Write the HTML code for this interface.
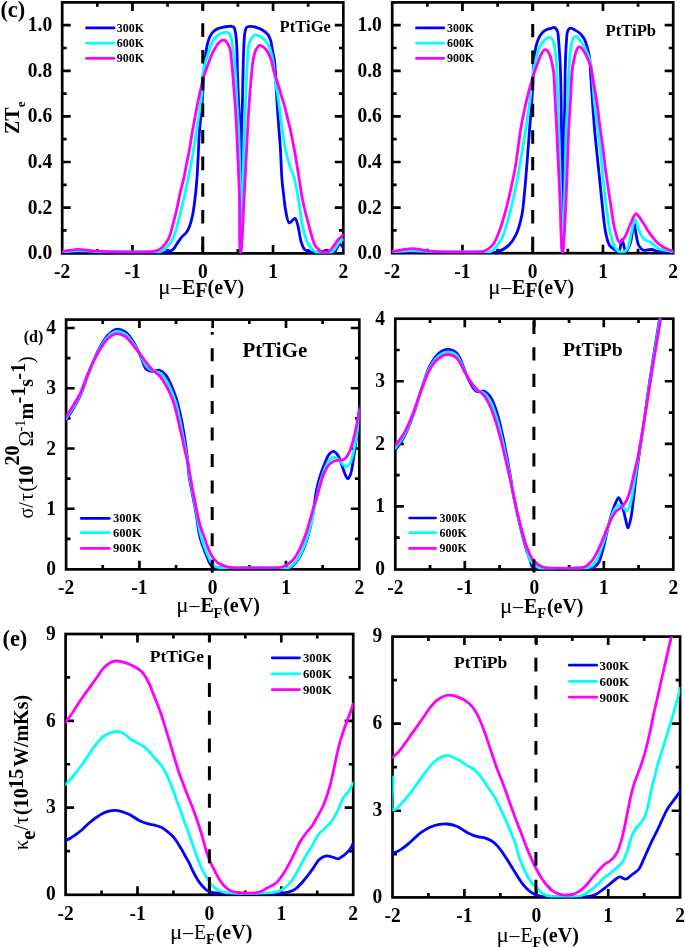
<!DOCTYPE html>
<html><head><meta charset="utf-8"><title>Figure</title>
<style>
html,body{margin:0;padding:0;background:#fff;}
body{width:685px;height:948px;overflow:hidden;font-family:"Liberation Serif", serif;}
svg{display:block;will-change:transform;}
</style></head><body>
<svg width="685" height="948" viewBox="0 0 685 948" font-family='"Liberation Serif", serif' font-weight="bold" fill="#000">
<defs>
<clipPath id="c1"><rect x="62.0" y="2.2" width="281.5" height="251.2"/></clipPath>
<clipPath id="c2"><rect x="392.0" y="2.2" width="281.4" height="251.0"/></clipPath>
<clipPath id="c3"><rect x="65.9" y="319.4" width="293.6" height="249.9"/></clipPath>
<clipPath id="c4"><rect x="395.1" y="318.5" width="278.4" height="251.0"/></clipPath>
<clipPath id="c5"><rect x="65.4" y="633.8" width="288.0" height="261.0"/></clipPath>
<clipPath id="c6"><rect x="392.3" y="636.4" width="288.0" height="261.0"/></clipPath>
</defs>
<path d="M132.48,253.40V244.90M132.48,2.40V10.90M202.75,253.40V244.90M202.75,2.40V10.90M273.03,253.40V244.90M273.03,2.40V10.90M97.34,253.40V249.00M97.34,2.40V6.80M167.61,253.40V249.00M167.61,2.40V6.80M237.89,253.40V249.00M237.89,2.40V6.80M308.16,253.40V249.00M308.16,2.40V6.80M62.20,207.60H70.70M343.30,207.60H334.80M62.20,162.00H70.70M343.30,162.00H334.80M62.20,116.40H70.70M343.30,116.40H334.80M62.20,70.80H70.70M343.30,70.80H334.80M62.20,25.20H70.70M343.30,25.20H334.80M62.20,230.40H66.60M343.30,230.40H338.90M62.20,184.80H66.60M343.30,184.80H338.90M62.20,139.20H66.60M343.30,139.20H338.90M62.20,93.60H66.60M343.30,93.60H338.90M62.20,48.00H66.60M343.30,48.00H338.90" stroke="#000" stroke-width="2.70" fill="none"/>
<rect x="62.20" y="2.40" width="281.10" height="251.00" stroke="#000" stroke-width="2.70" fill="none"/>
<text transform="translate(52.2,259.1) scale(1,1.065)" text-anchor="end" font-size="19.5">0.0</text>
<text transform="translate(52.2,213.5) scale(1,1.065)" text-anchor="end" font-size="19.5">0.2</text>
<text transform="translate(52.2,167.9) scale(1,1.065)" text-anchor="end" font-size="19.5">0.4</text>
<text transform="translate(52.2,122.3) scale(1,1.065)" text-anchor="end" font-size="19.5">0.6</text>
<text transform="translate(52.2,76.7) scale(1,1.065)" text-anchor="end" font-size="19.5">0.8</text>
<text transform="translate(52.2,31.1) scale(1,1.065)" text-anchor="end" font-size="19.5">1.0</text>
<text transform="translate(62.2,278.3) scale(1,1.065)" text-anchor="middle" font-size="19.5">-2</text>
<text transform="translate(132.5,278.3) scale(1,1.065)" text-anchor="middle" font-size="19.5">-1</text>
<text transform="translate(202.8,278.3) scale(1,1.065)" text-anchor="middle" font-size="19.5">0</text>
<text transform="translate(273.0,278.3) scale(1,1.065)" text-anchor="middle" font-size="19.5">1</text>
<text transform="translate(343.3,278.3) scale(1,1.065)" text-anchor="middle" font-size="19.5">2</text>
<path d="M462.45,253.20V244.70M462.45,2.40V10.90M532.70,253.20V244.70M532.70,2.40V10.90M602.95,253.20V244.70M602.95,2.40V10.90M427.32,253.20V248.80M427.32,2.40V6.80M497.58,253.20V248.80M497.58,2.40V6.80M567.83,253.20V248.80M567.83,2.40V6.80M638.08,253.20V248.80M638.08,2.40V6.80M392.20,207.60H400.70M673.20,207.60H664.70M392.20,162.00H400.70M673.20,162.00H664.70M392.20,116.40H400.70M673.20,116.40H664.70M392.20,70.80H400.70M673.20,70.80H664.70M392.20,25.20H400.70M673.20,25.20H664.70M392.20,230.40H396.60M673.20,230.40H668.80M392.20,184.80H396.60M673.20,184.80H668.80M392.20,139.20H396.60M673.20,139.20H668.80M392.20,93.60H396.60M673.20,93.60H668.80M392.20,48.00H396.60M673.20,48.00H668.80" stroke="#000" stroke-width="2.70" fill="none"/>
<rect x="392.20" y="2.40" width="281.00" height="250.80" stroke="#000" stroke-width="2.70" fill="none"/>
<text transform="translate(381.8,259.1) scale(1,1.065)" text-anchor="end" font-size="19.5">0.0</text>
<text transform="translate(381.8,213.5) scale(1,1.065)" text-anchor="end" font-size="19.5">0.2</text>
<text transform="translate(381.8,167.9) scale(1,1.065)" text-anchor="end" font-size="19.5">0.4</text>
<text transform="translate(381.8,122.3) scale(1,1.065)" text-anchor="end" font-size="19.5">0.6</text>
<text transform="translate(381.8,76.7) scale(1,1.065)" text-anchor="end" font-size="19.5">0.8</text>
<text transform="translate(381.8,31.1) scale(1,1.065)" text-anchor="end" font-size="19.5">1.0</text>
<text transform="translate(392.2,278.3) scale(1,1.065)" text-anchor="middle" font-size="19.5">-2</text>
<text transform="translate(462.4,278.3) scale(1,1.065)" text-anchor="middle" font-size="19.5">-1</text>
<text transform="translate(532.7,278.3) scale(1,1.065)" text-anchor="middle" font-size="19.5">0</text>
<text transform="translate(603.0,278.3) scale(1,1.065)" text-anchor="middle" font-size="19.5">1</text>
<text transform="translate(673.2,278.3) scale(1,1.065)" text-anchor="middle" font-size="19.5">2</text>
<path d="M139.40,569.35V560.85M139.40,319.60V328.10M212.70,569.35V560.85M212.70,319.60V328.10M286.00,569.35V560.85M286.00,319.60V328.10M102.75,569.35V564.95M102.75,319.60V324.00M176.05,569.35V564.95M176.05,319.60V324.00M249.35,569.35V564.95M249.35,319.60V324.00M322.65,569.35V564.95M322.65,319.60V324.00M66.10,508.75H74.60M359.30,508.75H350.80M66.10,448.50H74.60M359.30,448.50H350.80M66.10,388.25H74.60M359.30,388.25H350.80M66.10,328.00H74.60M359.30,328.00H350.80M66.10,538.88H70.50M359.30,538.88H354.90M66.10,478.62H70.50M359.30,478.62H354.90M66.10,418.38H70.50M359.30,418.38H354.90M66.10,358.12H70.50M359.30,358.12H354.90" stroke="#000" stroke-width="2.70" fill="none"/>
<rect x="66.10" y="319.60" width="293.20" height="249.75" stroke="#000" stroke-width="2.70" fill="none"/>
<text transform="translate(56.0,575.0) scale(1,1.065)" text-anchor="end" font-size="19.5">0</text>
<text transform="translate(56.0,514.8) scale(1,1.065)" text-anchor="end" font-size="19.5">1</text>
<text transform="translate(56.0,454.5) scale(1,1.065)" text-anchor="end" font-size="19.5">2</text>
<text transform="translate(56.0,394.2) scale(1,1.065)" text-anchor="end" font-size="19.5">3</text>
<text transform="translate(56.0,334.0) scale(1,1.065)" text-anchor="end" font-size="19.5">4</text>
<text transform="translate(66.1,593.8) scale(1,1.065)" text-anchor="middle" font-size="19.5">-2</text>
<text transform="translate(139.4,593.8) scale(1,1.065)" text-anchor="middle" font-size="19.5">-1</text>
<text transform="translate(212.7,593.8) scale(1,1.065)" text-anchor="middle" font-size="19.5">0</text>
<text transform="translate(286.0,593.8) scale(1,1.065)" text-anchor="middle" font-size="19.5">1</text>
<text transform="translate(359.3,593.8) scale(1,1.065)" text-anchor="middle" font-size="19.5">2</text>
<path d="M464.80,569.50V561.00M464.80,318.70V327.20M534.30,569.50V561.00M534.30,318.70V327.20M603.80,569.50V561.00M603.80,318.70V327.20M430.05,569.50V565.10M430.05,318.70V323.10M499.55,569.50V565.10M499.55,318.70V323.10M569.05,569.50V565.10M569.05,318.70V323.10M638.55,569.50V565.10M638.55,318.70V323.10M395.30,506.43H403.80M673.30,506.43H664.80M395.30,443.85H403.80M673.30,443.85H664.80M395.30,381.27H403.80M673.30,381.27H664.80M395.30,537.71H399.70M673.30,537.71H668.90M395.30,475.14H399.70M673.30,475.14H668.90M395.30,412.56H399.70M673.30,412.56H668.90M395.30,349.99H399.70M673.30,349.99H668.90" stroke="#000" stroke-width="2.70" fill="none"/>
<rect x="395.30" y="318.70" width="278.00" height="250.80" stroke="#000" stroke-width="2.70" fill="none"/>
<text transform="translate(385.0,575.0) scale(1,1.065)" text-anchor="end" font-size="19.5">0</text>
<text transform="translate(385.0,512.4) scale(1,1.065)" text-anchor="end" font-size="19.5">1</text>
<text transform="translate(385.0,449.9) scale(1,1.065)" text-anchor="end" font-size="19.5">2</text>
<text transform="translate(385.0,387.3) scale(1,1.065)" text-anchor="end" font-size="19.5">3</text>
<text transform="translate(385.0,324.7) scale(1,1.065)" text-anchor="end" font-size="19.5">4</text>
<text transform="translate(395.3,593.8) scale(1,1.065)" text-anchor="middle" font-size="19.5">-2</text>
<text transform="translate(464.8,593.8) scale(1,1.065)" text-anchor="middle" font-size="19.5">-1</text>
<text transform="translate(534.3,593.8) scale(1,1.065)" text-anchor="middle" font-size="19.5">0</text>
<text transform="translate(603.8,593.8) scale(1,1.065)" text-anchor="middle" font-size="19.5">1</text>
<text transform="translate(673.3,593.8) scale(1,1.065)" text-anchor="middle" font-size="19.5">2</text>
<path d="M137.50,894.80V886.30M137.50,634.00V642.50M209.40,894.80V886.30M209.40,634.00V642.50M281.30,894.80V886.30M281.30,634.00V642.50M101.55,894.80V890.40M101.55,634.00V638.40M173.45,894.80V890.40M173.45,634.00V638.40M245.35,894.80V890.40M245.35,634.00V638.40M317.25,894.80V890.40M317.25,634.00V638.40M65.60,807.68H74.10M353.20,807.68H344.70M65.60,720.86H74.10M353.20,720.86H344.70M65.60,851.09H70.00M353.20,851.09H348.80M65.60,764.27H70.00M353.20,764.27H348.80M65.60,677.45H70.00M353.20,677.45H348.80" stroke="#000" stroke-width="2.70" fill="none"/>
<rect x="65.60" y="634.00" width="287.60" height="260.80" stroke="#000" stroke-width="2.70" fill="none"/>
<text transform="translate(55.7,900.1) scale(1,1.065)" text-anchor="end" font-size="19.5">0</text>
<text transform="translate(55.7,813.3) scale(1,1.065)" text-anchor="end" font-size="19.5">3</text>
<text transform="translate(55.7,726.5) scale(1,1.065)" text-anchor="end" font-size="19.5">6</text>
<text transform="translate(55.7,639.6) scale(1,1.065)" text-anchor="end" font-size="19.5">9</text>
<text transform="translate(65.6,920.0) scale(1,1.065)" text-anchor="middle" font-size="19.5">-2</text>
<text transform="translate(137.5,920.0) scale(1,1.065)" text-anchor="middle" font-size="19.5">-1</text>
<text transform="translate(209.4,920.0) scale(1,1.065)" text-anchor="middle" font-size="19.5">0</text>
<text transform="translate(281.3,920.0) scale(1,1.065)" text-anchor="middle" font-size="19.5">1</text>
<text transform="translate(353.2,920.0) scale(1,1.065)" text-anchor="middle" font-size="19.5">2</text>
<path d="M464.40,897.40V888.90M464.40,636.60V645.10M536.30,897.40V888.90M536.30,636.60V645.10M608.20,897.40V888.90M608.20,636.60V645.10M428.45,897.40V893.00M428.45,636.60V641.00M500.35,897.40V893.00M500.35,636.60V641.00M572.25,897.40V893.00M572.25,636.60V641.00M644.15,897.40V893.00M644.15,636.60V641.00M392.50,810.74H401.00M680.10,810.74H671.60M392.50,723.68H401.00M680.10,723.68H671.60M392.50,854.27H396.90M680.10,854.27H675.70M392.50,767.21H396.90M680.10,767.21H675.70M392.50,680.15H396.90M680.10,680.15H675.70" stroke="#000" stroke-width="2.70" fill="none"/>
<rect x="392.50" y="636.60" width="287.60" height="260.80" stroke="#000" stroke-width="2.70" fill="none"/>
<text transform="translate(382.3,903.4) scale(1,1.065)" text-anchor="end" font-size="19.5">0</text>
<text transform="translate(382.3,816.3) scale(1,1.065)" text-anchor="end" font-size="19.5">3</text>
<text transform="translate(382.3,729.3) scale(1,1.065)" text-anchor="end" font-size="19.5">6</text>
<text transform="translate(382.3,642.2) scale(1,1.065)" text-anchor="end" font-size="19.5">9</text>
<text transform="translate(392.5,922.3) scale(1,1.065)" text-anchor="middle" font-size="19.5">-2</text>
<text transform="translate(464.4,922.3) scale(1,1.065)" text-anchor="middle" font-size="19.5">-1</text>
<text transform="translate(536.3,922.3) scale(1,1.065)" text-anchor="middle" font-size="19.5">0</text>
<text transform="translate(608.2,922.3) scale(1,1.065)" text-anchor="middle" font-size="19.5">1</text>
<text transform="translate(680.1,922.3) scale(1,1.065)" text-anchor="middle" font-size="19.5">2</text>
<path d="M62.40,252.30 C67.60,252.07 72.61,251.62 78.00,251.60 C83.79,251.58 88.39,252.14 96.00,252.30 C109.18,252.58 139.17,252.53 150.00,252.50 C154.66,252.49 157.22,252.52 160.00,252.40 C161.99,252.31 163.26,252.32 165.10,252.00 C167.35,251.61 170.45,251.44 172.50,250.00 C174.73,248.44 176.02,244.92 177.70,242.60 C179.21,240.51 180.57,238.47 182.10,236.70 C183.51,235.07 185.28,233.98 186.50,232.30 C187.76,230.56 188.61,228.69 189.50,226.40 C190.64,223.47 191.58,219.80 192.40,216.00 C193.37,211.53 194.01,206.64 194.70,201.20 C195.54,194.58 196.29,187.01 196.90,179.10 C197.60,169.96 198.05,158.09 198.50,149.50 C198.85,142.88 198.98,137.60 199.40,131.90 C199.80,126.49 200.40,121.58 200.90,116.10 C201.44,110.18 202.07,103.86 202.50,97.60 C202.94,91.16 203.12,84.02 203.50,78.00 C203.83,72.86 204.17,68.03 204.60,63.70 C204.96,60.09 205.35,57.00 205.80,53.80 C206.22,50.78 206.57,47.75 207.20,45.00 C207.77,42.51 208.34,40.18 209.30,38.00 C210.23,35.89 211.30,33.69 212.80,32.10 C214.23,30.58 216.19,29.42 218.00,28.60 C219.70,27.83 221.58,27.55 223.30,27.20 C224.90,26.87 226.55,26.65 228.00,26.50 C229.25,26.37 230.46,26.12 231.50,26.30 C232.39,26.45 233.27,26.59 233.90,27.30 C234.87,28.39 235.15,30.79 235.60,33.20 C236.28,36.85 236.50,41.81 236.80,47.20 C237.21,54.55 237.20,64.19 237.50,73.30 C237.82,83.33 238.33,94.97 238.70,104.90 C239.03,113.75 239.36,119.53 239.60,130.00 C240.00,147.48 240.13,178.40 240.30,200.00 C240.45,218.62 239.37,250.78 240.60,252.00 C240.69,252.09 240.81,252.09 240.90,252.00 C242.13,250.78 241.19,218.62 241.30,200.00 C241.43,178.40 241.29,148.72 241.60,130.00 C241.81,117.46 242.25,108.82 242.50,98.60 C242.74,88.84 242.87,78.99 243.10,70.00 C243.31,61.97 243.43,54.03 243.80,47.20 C244.11,41.62 244.22,35.58 245.00,32.00 C245.44,29.95 245.70,28.21 246.70,27.30 C247.55,26.53 248.87,26.47 250.20,26.40 C251.90,26.31 254.17,26.76 256.10,27.30 C258.08,27.85 260.04,28.60 261.90,29.70 C263.92,30.90 266.24,32.59 267.70,34.40 C269.03,36.06 269.77,37.83 270.50,40.00 C271.41,42.70 271.68,46.33 272.30,49.50 C272.92,52.67 273.72,55.82 274.20,59.00 C274.68,62.16 274.94,65.18 275.20,68.50 C275.49,72.15 275.60,76.13 275.80,80.00 C276.00,83.96 276.15,87.53 276.40,92.00 C276.72,97.65 277.16,104.83 277.60,111.20 C278.03,117.50 278.53,123.74 279.00,130.00 C279.47,136.24 279.96,141.67 280.40,148.70 C280.97,157.79 281.30,171.42 282.00,180.00 C282.49,186.01 283.08,190.19 283.70,195.30 C284.32,200.43 284.69,205.90 285.70,210.70 C286.62,215.04 287.37,222.31 289.30,222.90 C290.75,223.35 293.47,217.93 294.90,218.30 C296.43,218.69 297.09,222.95 298.00,226.00 C299.24,230.19 299.67,237.05 301.00,241.30 C302.01,244.52 302.76,247.72 304.60,249.50 C306.19,251.04 308.61,251.53 310.80,252.00 C313.07,252.49 315.75,252.51 318.00,252.30 C320.02,252.11 322.09,251.39 323.70,251.00 C324.89,250.71 325.79,250.11 326.80,250.20 C327.83,250.29 328.66,251.28 329.80,251.60 C331.14,251.98 333.21,252.67 334.40,252.10 C335.62,251.51 336.15,249.37 337.00,248.00 C337.85,246.64 338.60,244.08 339.50,243.90 C340.16,243.76 340.95,244.77 341.60,245.40 C342.33,246.11 342.93,247.13 343.60,248.00" stroke="#0000ff" stroke-width="2.8" fill="none" stroke-linejoin="round" stroke-linecap="round" clip-path="url(#c1)"/>
<path d="M62.40,251.80 C67.60,251.37 72.61,250.57 78.00,250.50 C83.78,250.42 88.39,251.27 96.00,251.50 C109.17,251.90 138.91,251.92 150.00,251.80 C154.94,251.74 157.73,252.50 160.70,251.50 C163.23,250.65 165.06,248.95 167.00,247.00 C169.29,244.70 171.50,241.67 173.20,238.20 C175.23,234.04 176.33,228.35 177.70,223.40 C179.06,218.48 180.18,213.53 181.40,208.60 C182.61,203.69 183.90,198.82 185.00,193.90 C186.10,188.99 187.00,184.03 188.00,179.10 C189.00,174.17 190.07,169.24 191.00,164.30 C191.93,159.37 192.81,154.12 193.60,149.50 C194.29,145.43 195.05,141.24 195.50,138.00 C195.83,135.65 195.85,134.40 196.20,131.90 C196.76,127.86 197.95,121.75 198.80,116.10 C199.78,109.58 201.02,102.13 201.70,95.00 C202.40,87.73 202.08,78.95 202.90,72.90 C203.49,68.60 204.34,65.32 205.30,62.00 C206.14,59.10 207.35,56.61 208.20,54.00 C209.00,51.55 209.45,49.06 210.30,46.80 C211.10,44.68 212.00,42.60 213.10,40.80 C214.12,39.13 215.27,37.54 216.60,36.30 C217.85,35.13 219.34,34.15 220.80,33.50 C222.15,32.89 223.69,32.53 225.00,32.40 C226.13,32.29 227.32,32.13 228.20,32.60 C229.14,33.10 229.78,34.11 230.40,35.50 C231.53,38.01 232.03,43.20 232.70,47.20 C233.40,51.36 234.01,55.25 234.50,60.00 C235.11,65.92 235.39,72.97 235.80,80.00 C236.26,87.84 236.62,96.58 237.10,104.90 C237.58,113.25 238.25,119.53 238.70,130.00 C239.46,147.47 239.99,178.40 240.30,200.00 C240.57,218.62 239.19,250.60 240.60,252.00 C240.72,252.12 240.87,252.12 241.00,252.00 C242.44,250.60 241.98,218.62 242.50,200.00 C243.10,178.40 243.76,148.72 244.40,130.00 C244.83,117.46 245.29,108.32 245.70,98.60 C246.05,90.17 246.37,81.98 246.70,75.00 C246.97,69.44 247.13,65.10 247.50,60.00 C247.89,54.68 247.77,47.91 249.00,43.70 C249.85,40.78 251.36,38.20 252.60,36.70 C253.35,35.79 253.90,35.08 254.90,34.90 C256.34,34.63 258.88,35.61 260.70,36.70 C262.82,37.97 264.99,40.29 266.60,42.50 C268.23,44.72 269.39,47.26 270.40,50.00 C271.52,53.03 272.07,55.93 272.80,60.00 C273.92,66.20 274.70,76.94 275.70,83.70 C276.45,88.78 277.31,92.49 278.00,97.00 C278.71,101.65 279.24,106.13 279.90,111.20 C280.66,117.03 281.40,123.75 282.30,130.00 C283.20,136.25 284.10,142.87 285.30,148.70 C286.37,153.92 287.53,158.53 289.00,163.40 C290.49,168.36 292.70,172.73 294.20,178.20 C295.99,184.71 297.36,192.79 298.60,200.00 C299.81,207.02 300.41,214.50 301.60,220.90 C302.63,226.42 303.58,231.68 305.10,236.20 C306.38,240.01 307.71,243.67 309.70,246.40 C311.42,248.76 313.15,250.87 315.90,252.00 C319.52,253.48 327.07,253.61 330.30,252.60 C332.23,252.00 333.18,250.82 334.40,249.50 C335.79,248.00 336.73,245.58 338.00,243.90 C339.15,242.38 340.47,240.42 341.60,239.80 C342.29,239.42 342.93,239.60 343.60,239.50" stroke="#00ffff" stroke-width="2.8" fill="none" stroke-linejoin="round" stroke-linecap="round" clip-path="url(#c1)"/>
<path d="M62.40,251.50 C67.43,250.77 72.17,249.42 77.50,249.30 C83.46,249.17 88.54,250.77 96.50,251.20 C109.89,251.92 142.44,251.93 150.50,251.60 C152.83,251.51 153.37,251.67 155.00,251.20 C157.18,250.57 160.05,249.36 162.20,247.50 C164.75,245.29 167.03,241.83 168.80,238.20 C170.85,233.98 171.85,228.35 173.20,223.40 C174.55,218.48 175.78,213.54 176.90,208.60 C178.01,203.70 178.79,198.80 179.90,193.90 C181.02,188.96 182.50,184.05 183.60,179.10 C184.70,174.18 185.52,169.23 186.50,164.30 C187.48,159.37 188.64,154.33 189.50,149.50 C190.32,144.91 190.91,140.09 191.60,136.00 C192.18,132.58 192.66,130.14 193.30,126.60 C194.14,122.01 195.18,116.06 196.20,110.80 C197.22,105.53 198.19,100.49 199.40,95.00 C200.73,88.97 202.48,80.92 203.90,76.10 C204.80,73.04 205.62,71.16 206.50,68.70 C207.38,66.23 208.30,63.71 209.20,61.30 C210.07,58.98 210.87,56.60 211.80,54.50 C212.64,52.60 213.57,50.85 214.50,49.20 C215.34,47.70 216.19,46.28 217.10,45.00 C217.93,43.83 218.69,42.61 219.70,41.80 C220.64,41.04 221.87,40.34 222.90,40.20 C223.79,40.08 224.77,40.23 225.50,40.70 C226.34,41.24 226.86,42.40 227.50,43.50 C228.31,44.88 229.19,46.36 229.80,48.40 C230.70,51.40 230.96,55.35 231.50,60.00 C232.30,66.93 233.01,77.39 233.70,86.00 C234.38,94.49 235.10,103.50 235.60,111.30 C236.03,118.00 236.21,121.78 236.60,130.00 C237.35,145.90 238.84,178.39 239.50,200.00 C240.06,218.62 239.25,250.78 240.50,252.00 C240.59,252.09 240.70,252.09 240.80,252.00 C242.10,250.78 242.95,218.62 244.00,200.00 C245.22,178.40 246.55,148.72 247.60,130.00 C248.30,117.46 248.79,108.32 249.50,98.60 C250.11,90.17 250.83,81.98 251.50,75.00 C252.03,69.43 252.22,64.52 253.10,60.00 C253.85,56.15 254.71,52.09 256.10,49.50 C257.08,47.68 258.27,45.70 259.60,45.40 C260.80,45.13 262.32,46.22 263.60,47.20 C265.26,48.48 267.04,50.88 268.30,53.00 C269.57,55.14 270.40,57.46 271.20,60.00 C272.11,62.87 272.47,66.36 273.30,69.40 C274.11,72.35 275.17,75.06 276.10,78.00 C277.07,81.08 278.05,84.33 279.00,87.50 C279.95,90.66 280.85,93.84 281.80,97.00 C282.75,100.17 283.79,103.18 284.70,106.50 C285.69,110.11 286.56,114.04 287.50,117.90 C288.46,121.87 289.41,125.52 290.40,130.00 C291.63,135.55 293.00,142.20 294.20,148.70 C295.51,155.75 296.61,162.92 297.90,170.80 C299.39,179.85 300.80,191.11 302.60,200.00 C304.13,207.58 306.06,214.48 307.70,220.90 C309.11,226.41 310.44,231.77 311.80,236.20 C312.87,239.68 313.76,243.22 315.00,245.40 C315.80,246.80 316.72,247.54 317.60,248.50 C318.42,249.40 319.01,250.41 320.10,251.00 C321.42,251.72 323.60,252.14 325.20,252.10 C326.65,252.06 328.07,251.75 329.30,251.00 C330.68,250.15 331.74,248.45 332.90,247.00 C334.15,245.44 335.32,243.43 336.50,241.90 C337.52,240.57 338.38,239.48 339.50,238.30 C340.72,237.01 342.23,235.77 343.60,234.50" stroke="#ff00ff" stroke-width="2.8" fill="none" stroke-linejoin="round" stroke-linecap="round" clip-path="url(#c1)"/>
<path d="M392.20,252.30 C398.80,252.03 405.38,251.50 412.00,251.50 C418.65,251.50 423.90,252.12 432.00,252.30 C444.55,252.58 468.15,252.58 480.00,252.50 C486.97,252.45 491.68,253.53 496.60,252.20 C501.04,251.00 505.17,248.49 508.40,245.60 C511.53,242.79 513.73,239.39 515.80,235.20 C518.39,229.94 520.27,222.69 521.70,216.00 C523.20,208.96 523.58,201.81 524.40,193.90 C525.34,184.76 526.08,174.53 526.90,164.30 C527.78,153.29 528.63,141.18 529.50,130.00 C530.33,119.30 531.37,108.32 532.00,98.60 C532.55,90.18 532.82,82.12 533.20,75.00 C533.51,69.12 533.55,63.99 534.10,58.90 C534.60,54.27 535.25,49.50 536.20,45.70 C536.95,42.69 537.75,40.10 538.90,37.80 C539.91,35.78 541.09,33.90 542.50,32.50 C543.77,31.24 545.32,30.31 546.80,29.60 C548.16,28.95 549.70,28.67 551.00,28.30 C552.11,27.99 553.20,27.35 554.10,27.50 C554.90,27.64 555.62,28.21 556.20,28.90 C556.92,29.76 557.41,31.03 557.80,32.50 C558.36,34.61 558.35,37.65 558.60,40.50 C558.89,43.76 559.15,47.30 559.40,51.00 C559.68,55.15 559.97,59.25 560.20,64.20 C560.49,70.56 560.70,77.47 560.90,86.00 C561.18,98.12 561.31,113.64 561.50,130.00 C561.74,150.64 562.05,178.40 562.20,200.00 C562.33,218.62 561.17,250.78 562.40,252.00 C562.49,252.09 562.61,252.09 562.70,252.00 C563.94,250.78 563.25,218.62 563.50,200.00 C563.79,178.40 564.01,150.09 564.30,130.00 C564.52,114.81 564.85,101.14 565.00,90.00 C565.11,82.00 565.07,75.81 565.20,69.40 C565.32,63.78 565.47,58.62 565.70,53.60 C565.91,49.03 566.19,44.33 566.50,40.50 C566.74,37.50 566.74,34.61 567.30,32.50 C567.69,31.03 568.14,29.62 568.90,28.90 C569.47,28.36 570.21,28.06 571.00,28.10 C572.07,28.15 573.45,29.21 574.70,29.90 C576.07,30.66 577.66,31.50 578.90,32.50 C580.08,33.45 581.06,34.51 582.00,35.70 C583.00,36.96 583.93,38.34 584.70,39.90 C585.56,41.63 586.17,43.67 586.80,45.70 C587.48,47.89 588.11,50.33 588.60,52.60 C589.07,54.76 589.38,56.29 589.70,59.00 C590.24,63.64 590.46,71.21 590.90,78.00 C591.41,85.83 592.00,94.87 592.60,103.30 C593.20,111.73 593.77,120.17 594.50,128.60 C595.23,137.04 596.16,145.57 597.00,153.90 C597.82,162.03 598.67,169.93 599.50,178.00 C600.34,186.13 601.03,193.87 602.00,202.50 C603.09,212.19 604.08,225.41 605.80,233.30 C606.91,238.39 607.64,242.69 609.70,245.60 C611.28,247.84 614.07,249.11 615.80,250.20 C616.97,250.94 618.04,252.19 618.90,251.80 C620.55,251.05 620.86,239.43 622.00,239.40 C623.15,239.37 624.28,251.67 625.80,251.80 C627.16,251.92 629.24,246.30 630.50,242.50 C632.26,237.20 633.01,222.50 634.00,222.50 C634.73,222.50 635.12,229.60 635.90,233.30 C636.73,237.28 637.22,242.65 638.90,245.60 C640.11,247.73 641.65,249.51 643.60,250.20 C645.72,250.95 648.75,249.29 651.30,249.50 C653.89,249.71 656.00,251.06 659.00,251.50 C663.07,252.09 668.73,251.83 673.60,252.00" stroke="#0000ff" stroke-width="2.8" fill="none" stroke-linejoin="round" stroke-linecap="round" clip-path="url(#c2)"/>
<path d="M392.20,251.80 C398.80,251.40 405.38,250.65 412.00,250.60 C418.65,250.55 423.89,251.29 432.00,251.50 C444.55,251.82 469.74,251.91 480.00,251.80 C484.85,251.75 487.42,253.09 490.70,251.50 C494.87,249.48 498.84,243.53 501.80,238.20 C505.24,232.01 507.01,223.44 509.10,216.00 C511.16,208.67 512.70,201.29 514.30,193.90 C515.90,186.52 517.35,179.11 518.70,171.70 C520.05,164.31 521.20,156.66 522.40,149.50 C523.53,142.79 524.57,137.28 525.70,130.00 C527.13,120.78 528.92,107.71 530.10,98.60 C531.00,91.60 531.58,85.67 532.30,80.00 C532.91,75.22 533.27,71.18 534.10,66.80 C534.94,62.38 536.02,57.52 537.30,53.60 C538.38,50.30 539.53,47.20 541.00,44.70 C542.23,42.61 543.65,40.66 545.20,39.40 C546.49,38.35 548.18,37.25 549.40,37.30 C550.38,37.34 551.28,38.05 552.00,38.90 C552.97,40.05 553.55,42.07 554.10,44.10 C554.82,46.76 555.11,50.34 555.50,53.60 C555.91,57.03 556.24,60.31 556.50,64.20 C556.81,68.94 556.89,74.52 557.10,80.00 C557.32,85.95 557.57,91.59 557.80,98.60 C558.10,107.70 558.31,117.46 558.70,130.00 C559.28,148.72 560.38,178.40 561.00,200.00 C561.54,218.62 561.05,250.78 562.30,252.00 C562.40,252.09 562.50,252.09 562.60,252.00 C563.87,250.78 563.93,218.62 564.50,200.00 C565.16,178.40 565.50,148.71 566.20,130.00 C566.67,117.46 567.34,108.63 567.80,98.60 C568.23,89.37 568.55,79.31 568.90,72.00 C569.14,66.87 569.23,63.13 569.60,58.90 C569.95,54.91 570.45,50.72 571.00,47.30 C571.44,44.55 571.61,41.81 572.50,39.90 C573.18,38.45 574.21,36.72 575.20,36.50 C576.01,36.32 576.99,37.16 577.80,37.80 C578.78,38.57 579.63,39.87 580.50,41.00 C581.40,42.17 582.28,43.33 583.10,44.70 C584.03,46.26 584.84,48.11 585.70,49.90 C586.60,51.77 587.57,53.56 588.40,55.70 C589.37,58.19 590.33,60.74 591.00,64.00 C591.91,68.43 592.07,74.16 592.60,80.00 C593.24,87.04 593.68,95.38 594.50,103.30 C595.36,111.57 596.65,120.17 597.70,128.60 C598.75,137.03 599.89,145.39 600.80,153.90 C601.72,162.53 602.33,171.63 603.20,180.00 C604.01,187.78 604.73,194.42 605.80,202.50 C607.05,211.97 608.31,224.88 610.40,233.30 C611.91,239.40 613.22,245.51 615.80,248.70 C617.52,250.83 620.02,252.56 622.00,252.50 C623.88,252.44 625.99,250.77 627.40,248.70 C629.59,245.49 629.88,238.29 631.20,233.30 C632.46,228.54 633.74,219.44 635.10,219.40 C636.32,219.36 637.33,226.82 638.90,230.20 C640.42,233.47 641.98,237.33 644.30,239.40 C646.26,241.15 649.00,241.10 651.30,242.50 C653.91,244.09 655.81,247.18 659.00,248.70 C662.92,250.56 668.73,250.77 673.60,251.80" stroke="#00ffff" stroke-width="2.8" fill="none" stroke-linejoin="round" stroke-linecap="round" clip-path="url(#c2)"/>
<path d="M392.20,251.50 C398.77,250.53 405.27,248.65 411.90,248.60 C418.64,248.55 423.99,250.73 432.30,251.30 C445.22,252.19 477.39,251.76 482.00,251.60 C482.75,251.57 482.71,251.70 483.30,251.50 C484.99,250.92 489.68,248.46 492.20,245.60 C495.33,242.05 497.32,236.33 499.50,230.80 C502.09,224.24 504.21,216.02 506.20,208.60 C508.17,201.26 509.80,193.89 511.40,186.50 C513.00,179.12 514.40,172.60 515.80,164.30 C517.57,153.83 518.95,139.45 520.80,128.60 C522.37,119.42 524.34,110.28 525.90,103.30 C527.01,98.33 527.88,94.81 529.00,90.60 C530.12,86.38 531.27,82.30 532.60,78.00 C534.02,73.44 535.77,68.17 537.30,64.00 C538.56,60.57 539.77,57.15 541.00,54.70 C541.87,52.98 542.63,51.30 543.60,50.50 C544.25,49.96 545.00,49.57 545.70,49.70 C546.57,49.86 547.56,51.00 548.30,52.00 C549.22,53.24 549.90,55.06 550.50,56.80 C551.16,58.73 551.52,60.81 552.00,63.10 C552.56,65.80 553.14,68.08 553.60,72.00 C554.47,79.49 554.86,94.67 555.40,104.90 C555.88,113.83 556.18,119.53 556.70,130.00 C557.56,147.48 559.01,178.40 560.00,200.00 C560.85,218.62 561.02,250.78 562.30,252.00 C562.40,252.09 562.50,252.09 562.60,252.00 C563.90,250.78 565.03,218.63 566.00,200.00 C567.12,178.40 567.77,148.71 568.70,130.00 C569.32,117.46 570.03,108.63 570.60,98.60 C571.12,89.37 571.30,78.83 572.00,72.00 C572.44,67.69 572.95,64.84 573.60,61.50 C574.20,58.40 574.87,55.08 575.70,52.60 C576.33,50.72 576.88,48.68 577.80,47.80 C578.40,47.22 579.20,46.87 579.90,47.00 C580.79,47.16 581.77,48.42 582.60,49.40 C583.57,50.55 584.37,52.10 585.20,53.60 C586.11,55.24 586.98,57.04 587.80,58.90 C588.68,60.89 589.51,62.48 590.30,65.20 C591.63,69.80 592.78,77.93 593.90,84.30 C595.01,90.63 596.02,96.50 597.00,103.30 C598.13,111.12 599.20,121.08 600.20,128.60 C601.01,134.66 601.69,138.87 602.50,145.00 C603.53,152.80 604.55,162.41 605.80,171.60 C607.15,181.52 608.82,192.49 610.40,202.50 C611.89,211.99 613.02,222.89 615.00,230.20 C616.36,235.20 617.77,242.09 619.70,242.50 C621.05,242.79 622.84,240.02 624.30,237.90 C626.54,234.65 628.42,228.22 630.50,224.00 C632.29,220.36 633.86,214.23 635.90,214.00 C637.74,213.80 639.96,218.25 642.00,221.00 C644.55,224.44 646.85,229.43 649.70,233.30 C652.52,237.13 655.66,241.31 659.00,244.10 C661.89,246.51 665.47,248.34 668.20,249.50 C670.18,250.34 671.80,250.50 673.60,251.00" stroke="#ff00ff" stroke-width="2.8" fill="none" stroke-linejoin="round" stroke-linecap="round" clip-path="url(#c2)"/>
<path d="M66.10,420.00 C68.40,416.33 70.71,412.93 73.00,409.00 C75.54,404.65 78.30,400.08 80.60,395.00 C83.16,389.35 85.09,382.57 87.40,376.50 C89.66,370.57 91.88,364.46 94.30,359.00 C96.50,354.02 98.75,349.20 101.20,345.00 C103.35,341.30 105.32,337.68 108.00,335.00 C110.45,332.55 113.45,329.75 116.40,329.30 C119.23,328.87 122.59,330.17 125.30,332.00 C128.63,334.25 131.51,338.89 134.10,343.00 C136.91,347.47 139.15,353.34 141.30,358.00 C143.15,362.02 143.93,367.13 146.30,369.30 C148.05,370.91 150.56,371.36 152.70,371.50 C154.79,371.63 156.98,369.80 159.00,370.20 C161.20,370.64 163.42,372.42 165.30,374.50 C167.77,377.22 169.74,381.90 171.60,386.00 C173.58,390.37 175.23,395.21 176.70,400.00 C178.20,404.88 179.31,409.59 180.50,415.00 C181.88,421.28 183.16,428.42 184.30,435.50 C185.51,443.05 186.71,451.93 187.50,459.00 C188.15,464.78 188.22,469.63 188.90,474.80 C189.56,479.83 190.58,484.68 191.50,489.60 C192.42,494.51 193.48,499.39 194.40,504.30 C195.32,509.22 196.29,514.54 197.00,519.10 C197.61,523.00 197.92,526.65 198.50,530.00 C199.00,532.91 199.44,535.29 200.20,538.10 C201.05,541.26 202.36,544.84 203.50,548.00 C204.57,550.95 205.67,553.77 206.80,556.50 C207.87,559.09 208.87,562.10 210.10,564.00 C211.00,565.38 211.66,566.51 213.00,567.20 C214.72,568.08 217.45,567.86 220.00,568.00 C223.03,568.17 225.56,568.00 230.00,568.00 C238.89,568.00 259.87,568.00 270.00,568.00 C276.20,568.00 281.11,568.25 285.00,568.00 C287.49,567.84 289.30,568.09 291.10,567.20 C293.03,566.25 294.54,564.17 296.10,562.20 C297.91,559.91 299.54,557.13 301.10,554.10 C302.92,550.56 304.63,546.30 306.10,542.10 C307.65,537.66 309.03,532.52 310.10,528.10 C311.04,524.21 311.62,520.82 312.30,517.00 C313.02,512.96 313.63,508.82 314.30,504.50 C315.03,499.85 315.48,494.92 316.50,490.00 C317.58,484.79 319.12,479.03 320.70,474.10 C322.12,469.67 323.82,465.30 325.40,461.70 C326.66,458.82 327.61,455.88 329.20,454.10 C330.44,452.71 332.10,451.20 333.50,451.30 C334.98,451.41 336.57,453.36 337.80,455.10 C339.44,457.42 340.36,461.35 341.60,464.60 C342.89,467.98 344.14,472.44 345.40,475.00 C346.20,476.63 346.98,478.81 347.80,478.80 C348.71,478.79 349.83,476.12 350.60,474.10 C351.77,471.02 352.22,466.28 353.00,461.70 C353.96,456.05 354.97,449.39 355.80,442.70 C356.73,435.25 357.41,425.86 358.20,419.00 C358.81,413.72 359.40,409.67 360.00,405.00" stroke="#0000ff" stroke-width="2.8" fill="none" stroke-linejoin="round" stroke-linecap="round" clip-path="url(#c3)"/>
<path d="M66.10,418.50 C68.40,414.83 70.69,411.38 73.00,407.50 C75.52,403.26 78.31,398.94 80.60,394.00 C83.17,388.45 85.06,381.60 87.40,375.70 C89.63,370.08 91.89,364.50 94.30,359.40 C96.51,354.72 98.76,350.16 101.20,346.20 C103.36,342.69 105.33,339.20 108.00,336.70 C110.46,334.40 113.47,331.88 116.40,331.50 C119.24,331.13 122.58,332.40 125.30,334.20 C128.60,336.38 131.47,341.03 134.10,344.70 C136.69,348.31 138.90,352.32 141.00,356.00 C142.94,359.40 144.13,363.41 146.30,366.00 C148.14,368.20 150.45,369.92 152.70,371.00 C154.71,371.97 157.05,371.39 159.00,372.50 C161.31,373.81 163.42,376.39 165.30,379.00 C167.50,382.06 169.31,386.20 171.00,390.00 C172.72,393.86 174.17,397.70 175.50,402.00 C176.98,406.80 178.10,412.09 179.30,417.50 C180.61,423.38 181.80,429.75 183.00,436.00 C184.23,442.41 185.65,450.75 186.60,455.50 C187.15,458.25 187.59,459.46 188.00,462.00 C188.57,465.54 188.77,470.39 189.40,474.80 C190.08,479.57 191.08,484.68 192.00,489.60 C192.92,494.51 193.97,499.39 194.90,504.30 C195.83,509.22 196.79,514.54 197.60,519.10 C198.30,523.01 198.79,526.65 199.50,530.00 C200.11,532.91 200.68,535.28 201.50,538.10 C202.41,541.25 203.64,544.91 204.80,548.00 C205.85,550.80 206.96,553.40 208.10,555.90 C209.16,558.22 210.01,560.64 211.40,562.50 C212.68,564.22 214.17,565.88 216.00,566.80 C217.89,567.75 220.33,567.80 222.60,568.00 C224.99,568.22 226.46,568.00 230.00,568.00 C239.02,568.00 267.97,568.00 278.00,568.00 C282.58,568.00 285.22,568.93 288.00,568.00 C290.41,567.20 292.20,565.28 294.00,563.50 C295.88,561.64 297.46,559.52 299.00,557.00 C300.84,554.00 302.48,550.27 304.00,546.50 C305.68,542.33 307.15,537.48 308.50,533.00 C309.81,528.65 310.94,524.51 312.00,520.00 C313.13,515.20 313.98,509.91 315.00,505.00 C315.98,500.25 316.90,495.57 318.00,491.00 C319.07,486.57 320.15,482.22 321.50,478.00 C322.82,473.89 324.37,469.33 326.00,466.00 C327.26,463.43 328.44,460.93 330.00,459.50 C331.20,458.40 332.62,457.53 334.00,457.50 C335.45,457.47 337.14,458.51 338.50,459.50 C340.00,460.60 341.12,462.70 342.50,464.00 C343.73,465.16 345.08,467.10 346.30,467.00 C347.59,466.90 348.94,464.82 350.00,463.00 C351.54,460.36 352.48,456.04 353.50,452.00 C354.71,447.20 355.62,441.50 356.50,436.00 C357.43,430.19 358.25,422.80 358.90,418.00 C359.33,414.80 359.63,412.67 360.00,410.00" stroke="#00ffff" stroke-width="2.8" fill="none" stroke-linejoin="round" stroke-linecap="round" clip-path="url(#c3)"/>
<path d="M66.10,417.00 C68.33,413.37 70.51,409.94 72.80,406.10 C75.33,401.88 78.26,397.59 80.60,392.70 C83.19,387.28 85.03,380.55 87.40,374.90 C89.61,369.62 91.90,364.54 94.30,359.80 C96.52,355.42 98.77,351.11 101.20,347.40 C103.36,344.10 105.35,340.84 108.00,338.50 C110.47,336.32 113.49,333.91 116.40,333.60 C119.26,333.29 122.56,334.70 125.30,336.50 C128.56,338.65 131.49,343.40 134.10,346.50 C136.29,349.10 138.04,351.21 140.00,353.80 C142.11,356.59 144.13,359.89 146.30,362.70 C148.37,365.38 150.46,368.13 152.70,370.30 C154.71,372.26 157.04,373.23 159.00,375.30 C161.29,377.71 163.41,381.07 165.30,384.20 C167.22,387.39 168.90,390.89 170.40,394.30 C171.86,397.63 173.03,400.65 174.20,404.40 C175.61,408.91 176.76,414.42 178.00,419.60 C179.29,424.98 180.55,430.50 181.80,436.10 C183.09,441.89 184.51,449.03 185.60,453.80 C186.35,457.06 186.94,458.95 187.60,462.00 C188.42,465.78 189.20,470.38 190.00,474.80 C190.86,479.55 191.68,484.68 192.60,489.60 C193.52,494.51 194.52,499.39 195.50,504.30 C196.49,509.23 197.53,514.95 198.50,519.10 C199.22,522.16 199.77,524.39 200.60,527.00 C201.44,529.65 202.52,532.12 203.50,534.90 C204.59,537.98 205.64,541.63 206.80,544.70 C207.85,547.49 208.86,550.13 210.10,552.60 C211.27,554.94 212.42,557.31 214.00,559.20 C215.51,561.01 217.32,562.60 219.30,563.80 C221.29,565.01 223.68,565.69 225.90,566.40 C228.05,567.09 230.13,567.72 232.40,568.00 C234.82,568.29 237.29,568.00 240.00,568.00 C243.10,568.00 245.92,568.00 250.00,568.00 C256.46,568.00 268.99,568.48 275.00,568.00 C278.42,567.72 280.50,567.59 283.00,566.70 C285.50,565.82 287.96,564.32 290.00,562.70 C291.97,561.14 293.53,559.38 295.10,557.20 C296.95,554.64 298.52,551.39 300.10,548.10 C301.87,544.42 303.61,540.22 305.10,536.10 C306.62,531.89 307.79,527.52 309.10,523.10 C310.46,518.53 311.75,513.68 313.10,509.10 C314.41,504.65 315.84,500.28 317.10,496.00 C318.30,491.92 319.27,487.97 320.50,484.00 C321.73,480.03 322.89,475.62 324.50,472.20 C325.87,469.30 327.40,466.49 329.20,464.60 C330.65,463.08 332.33,462.02 334.00,461.30 C335.51,460.65 337.12,460.55 338.70,460.30 C340.29,460.05 342.09,460.47 343.50,459.80 C344.98,459.09 346.16,457.65 347.30,456.00 C348.79,453.83 349.95,450.75 351.10,447.50 C352.55,443.40 353.74,438.13 354.90,433.20 C356.12,428.01 357.27,421.71 358.20,417.10 C358.90,413.64 359.40,411.03 360.00,408.00" stroke="#ff00ff" stroke-width="2.8" fill="none" stroke-linejoin="round" stroke-linecap="round" clip-path="url(#c3)"/>
<path d="M395.30,450.00 C398.20,445.67 401.31,442.00 404.00,437.00 C407.24,430.97 410.03,423.50 412.80,416.00 C415.90,407.63 418.50,397.71 421.50,389.00 C424.35,380.74 426.85,371.44 430.30,365.00 C432.93,360.09 435.77,355.59 439.10,353.00 C441.75,350.94 444.89,349.51 447.80,349.50 C450.72,349.49 454.08,350.62 456.60,353.00 C460.26,356.45 462.75,365.93 465.00,371.00 C466.62,374.65 467.52,377.51 469.00,380.50 C470.40,383.33 472.02,386.56 473.60,388.50 C474.71,389.86 475.72,390.96 477.00,391.50 C478.20,392.01 479.77,391.91 481.00,391.80 C482.08,391.70 482.90,390.74 484.00,391.00 C485.82,391.43 488.52,394.17 490.30,396.60 C492.47,399.56 493.93,404.06 495.40,408.00 C496.91,412.05 498.00,416.10 499.20,420.60 C500.56,425.71 501.77,431.40 503.00,437.10 C504.31,443.20 505.57,449.56 506.80,456.10 C508.11,463.04 509.58,471.41 510.60,477.60 C511.37,482.29 511.73,485.55 512.50,490.00 C513.41,495.23 514.57,501.26 515.80,507.00 C517.07,512.93 518.51,518.85 520.00,525.00 C521.57,531.50 523.21,538.84 525.00,545.00 C526.57,550.39 528.49,555.88 530.00,560.00 C531.08,562.95 530.97,566.04 533.00,567.50 C535.47,569.28 539.83,568.05 545.00,568.20 C554.43,568.47 577.02,568.20 585.00,568.20 C588.41,568.20 590.12,569.01 592.30,568.20 C594.57,567.35 596.64,565.47 598.30,563.00 C600.60,559.58 601.80,553.47 603.20,548.50 C604.64,543.38 605.51,538.05 606.80,532.70 C608.14,527.15 609.56,520.95 611.10,515.80 C612.42,511.37 613.81,506.90 615.30,503.60 C616.39,501.19 617.62,497.55 618.70,497.60 C619.86,497.65 621.00,501.92 622.00,504.80 C623.38,508.76 624.49,515.20 625.60,519.40 C626.45,522.62 627.15,527.90 628.00,527.90 C628.97,527.90 630.24,521.13 631.10,517.00 C632.19,511.74 632.72,505.06 633.50,498.80 C634.33,492.15 635.07,484.85 635.90,478.20 C636.68,471.94 637.34,466.82 638.30,460.00 C639.53,451.24 641.12,441.51 642.80,430.00 C645.07,414.43 647.82,393.43 650.60,375.00 C653.42,356.33 657.94,330.10 659.60,318.70 C660.32,313.74 660.53,311.57 661.00,308.00" stroke="#0000ff" stroke-width="2.8" fill="none" stroke-linejoin="round" stroke-linecap="round" clip-path="url(#c4)"/>
<path d="M395.30,448.00 C398.20,443.83 401.32,440.34 404.00,435.50 C407.25,429.65 410.01,422.28 412.80,415.00 C415.88,406.97 418.50,397.56 421.50,389.30 C424.34,381.49 426.86,372.73 430.30,366.70 C432.94,362.08 435.81,357.97 439.10,355.50 C441.77,353.50 444.89,352.01 447.80,352.00 C450.72,351.99 454.05,353.18 456.60,355.50 C460.16,358.74 462.36,367.22 465.00,372.00 C467.10,375.79 468.94,378.84 471.00,382.00 C472.95,384.99 474.59,388.67 477.00,390.50 C479.04,392.05 481.93,391.46 484.00,393.00 C486.47,394.83 488.48,398.27 490.30,401.50 C492.36,405.15 493.89,409.68 495.40,414.00 C496.97,418.50 498.24,423.25 499.50,428.00 C500.78,432.85 501.84,437.64 503.00,442.80 C504.27,448.43 505.55,454.49 506.80,460.50 C508.09,466.72 509.57,474.09 510.60,479.50 C511.36,483.51 511.74,485.99 512.50,490.00 C513.53,495.41 514.90,502.77 516.30,509.00 C517.67,515.10 519.22,520.89 520.80,527.00 C522.45,533.38 524.11,540.41 526.00,546.50 C527.71,552.00 528.72,558.27 531.50,562.00 C533.73,564.98 536.33,567.00 540.00,568.20 C545.07,569.85 552.96,568.20 560.00,568.20 C567.87,568.20 579.42,569.12 585.00,568.20 C587.92,567.72 589.56,567.40 591.50,566.00 C593.84,564.31 595.77,561.13 597.50,558.00 C599.54,554.31 600.97,549.44 602.50,545.00 C604.07,540.45 605.32,535.66 606.80,531.00 C608.29,526.33 609.79,521.11 611.40,517.00 C612.72,513.63 613.93,510.09 615.50,508.00 C616.57,506.57 617.77,505.19 619.00,505.00 C620.12,504.83 621.35,505.71 622.50,506.50 C623.96,507.50 625.55,511.11 626.80,510.90 C628.29,510.65 629.48,506.17 630.50,503.00 C631.90,498.67 632.45,493.04 633.50,487.00 C634.86,479.18 636.27,469.41 637.80,460.00 C639.48,449.67 641.27,439.76 643.20,427.50 C645.71,411.57 648.57,390.72 651.40,372.50 C654.20,354.46 658.48,329.77 660.10,318.70 C660.82,313.77 661.03,311.57 661.50,308.00" stroke="#00ffff" stroke-width="2.8" fill="none" stroke-linejoin="round" stroke-linecap="round" clip-path="url(#c4)"/>
<path d="M395.30,445.60 C398.20,441.53 401.30,438.08 404.00,433.40 C407.21,427.83 410.02,420.98 412.80,414.10 C415.88,406.48 418.48,397.42 421.50,389.60 C424.33,382.26 426.88,374.12 430.30,368.50 C432.94,364.15 435.85,360.36 439.10,358.00 C441.79,356.05 444.89,354.51 447.80,354.50 C450.72,354.49 454.02,355.77 456.60,358.00 C460.03,360.96 462.37,368.11 465.00,372.50 C467.22,376.22 469.07,379.62 471.30,382.70 C473.33,385.50 475.46,388.13 477.70,390.30 C479.71,392.26 482.10,393.05 484.00,395.30 C486.42,398.16 488.44,402.64 490.30,406.70 C492.28,411.03 493.84,415.84 495.40,420.60 C497.01,425.53 498.49,430.95 499.80,435.80 C500.99,440.21 501.91,443.99 503.00,448.50 C504.24,453.61 505.54,459.42 506.80,464.90 C508.07,470.39 509.56,476.79 510.60,481.40 C511.35,484.73 511.74,486.51 512.50,490.00 C513.67,495.41 515.36,504.01 516.90,510.70 C518.36,517.05 519.82,523.06 521.50,529.20 C523.19,535.36 524.81,542.10 527.00,547.60 C528.90,552.37 530.64,557.18 533.50,560.50 C536.03,563.43 539.31,565.72 542.70,567.00 C546.08,568.28 549.50,567.97 553.80,568.20 C559.73,568.52 569.26,568.63 575.00,568.20 C578.97,567.90 582.21,567.92 585.00,566.70 C587.45,565.63 589.24,563.91 591.10,561.80 C593.35,559.26 595.30,555.49 597.10,552.10 C598.94,548.63 600.42,544.95 602.00,541.20 C603.65,537.29 605.15,533.01 606.80,529.10 C608.38,525.35 609.94,521.41 611.70,518.20 C613.21,515.46 614.70,512.79 616.50,510.90 C618.00,509.32 619.87,508.78 621.40,507.30 C623.13,505.63 624.86,503.59 626.20,501.20 C627.75,498.44 628.69,495.16 629.80,491.50 C631.18,486.93 632.25,481.04 633.50,475.80 C634.75,470.54 635.98,466.33 637.30,460.00 C639.25,450.63 641.32,437.91 643.50,424.90 C646.22,408.65 649.30,387.99 652.20,370.00 C655.00,352.61 659.02,329.43 660.60,318.70 C661.32,313.81 661.53,311.57 662.00,308.00" stroke="#ff00ff" stroke-width="2.8" fill="none" stroke-linejoin="round" stroke-linecap="round" clip-path="url(#c4)"/>
<path d="M65.80,840.70 C67.53,839.70 69.21,838.80 71.00,837.70 C72.97,836.49 75.10,835.19 77.10,833.70 C79.21,832.14 81.27,830.30 83.30,828.50 C85.37,826.67 87.33,824.58 89.40,822.80 C91.40,821.09 93.42,819.48 95.50,818.00 C97.53,816.55 99.59,815.12 101.70,814.00 C103.70,812.94 105.59,812.01 107.80,811.40 C110.22,810.73 113.05,810.17 115.70,810.30 C118.45,810.43 121.49,811.48 124.00,812.30 C126.19,813.02 127.84,813.69 130.00,814.80 C132.77,816.22 135.84,818.84 139.10,820.40 C142.49,822.03 146.91,823.43 150.00,824.30 C152.21,824.92 153.88,824.96 155.80,825.50 C157.78,826.05 159.80,826.63 161.70,827.60 C163.71,828.63 165.61,830.09 167.50,831.60 C169.51,833.20 171.65,835.02 173.40,837.00 C175.14,838.96 176.56,841.19 178.00,843.40 C179.46,845.63 180.75,847.94 182.10,850.30 C183.49,852.74 184.97,855.64 186.20,857.80 C187.15,859.47 187.87,860.43 188.80,862.20 C190.11,864.70 191.60,868.55 193.10,871.50 C194.51,874.27 195.96,876.98 197.50,879.40 C198.91,881.61 200.36,883.69 201.90,885.50 C203.30,887.15 204.74,888.77 206.30,889.90 C207.69,890.90 209.07,891.59 210.70,892.10 C212.53,892.68 214.37,892.77 216.80,893.00 C220.35,893.34 224.71,893.44 230.00,893.60 C237.97,893.83 251.72,893.89 260.00,894.00 C265.86,894.08 270.95,894.46 275.00,894.20 C277.78,894.02 279.58,893.62 282.00,893.20 C284.63,892.74 287.75,892.35 290.20,891.50 C292.35,890.75 294.16,889.93 296.00,888.60 C298.09,887.10 299.99,884.80 301.90,882.70 C303.89,880.51 305.81,878.15 307.70,875.70 C309.68,873.13 311.56,870.31 313.50,867.60 C315.46,864.87 317.07,861.38 319.40,859.40 C321.45,857.65 324.12,856.22 326.40,855.90 C328.38,855.63 330.27,856.52 332.20,857.00 C334.17,857.49 336.19,859.04 338.10,858.80 C340.10,858.55 342.05,856.75 343.90,855.30 C345.94,853.71 348.11,851.56 349.70,849.50 C351.16,847.61 352.03,845.50 353.20,843.50" stroke="#0000ff" stroke-width="2.8" fill="none" stroke-linejoin="round" stroke-linecap="round" clip-path="url(#c5)"/>
<path d="M65.70,784.40 C67.97,781.93 70.05,779.90 72.50,777.00 C75.72,773.19 79.66,768.09 83.10,763.30 C86.70,758.28 89.90,752.23 93.60,747.50 C96.97,743.19 100.35,738.59 104.20,735.90 C107.47,733.62 111.75,732.07 114.70,731.60 C116.72,731.28 118.28,731.53 120.00,732.00 C121.82,732.49 123.61,733.49 125.30,734.60 C127.12,735.79 128.57,737.65 130.50,739.00 C132.60,740.47 135.25,741.71 137.50,743.00 C139.60,744.20 141.71,745.12 143.60,746.50 C145.51,747.89 147.13,749.49 148.90,751.30 C150.92,753.36 152.95,755.97 155.00,758.30 C157.05,760.64 159.33,762.75 161.20,765.30 C163.15,767.96 165.01,771.33 166.40,774.00 C167.52,776.15 168.13,777.72 169.10,780.00 C170.35,782.96 171.93,786.85 173.20,790.30 C174.46,793.72 175.44,797.18 176.70,800.60 C177.97,804.05 179.54,807.45 180.80,810.90 C182.04,814.31 182.98,817.73 184.20,821.20 C185.47,824.79 186.95,828.39 188.30,832.10 C189.69,835.92 191.16,840.27 192.40,843.80 C193.42,846.72 194.16,848.93 195.20,851.80 C196.42,855.18 197.86,859.28 199.30,862.80 C200.67,866.13 202.05,869.50 203.60,872.40 C204.97,874.97 206.50,877.17 208.00,879.40 C209.43,881.53 210.74,883.72 212.40,885.50 C213.99,887.20 215.77,888.79 217.70,889.90 C219.58,890.97 221.67,891.58 223.80,892.10 C226.03,892.64 227.92,892.75 230.80,893.00 C235.40,893.40 243.27,893.84 248.80,893.80 C253.54,893.76 257.62,893.28 262.00,893.00 C266.35,892.72 271.37,892.83 275.00,892.10 C277.73,891.55 279.77,890.95 282.00,889.70 C284.47,888.32 286.89,886.15 289.00,883.90 C291.22,881.52 293.03,878.66 294.90,875.70 C296.94,872.47 298.77,868.70 300.70,865.20 C302.63,861.70 304.51,858.06 306.50,854.70 C308.41,851.48 310.49,848.62 312.40,845.40 C314.39,842.04 316.05,837.78 318.20,834.90 C319.98,832.51 322.03,830.97 324.00,829.00 C326.00,827.00 328.11,825.48 330.10,823.00 C332.64,819.82 335.30,815.26 337.50,811.10 C339.74,806.86 341.17,801.47 343.40,797.80 C345.20,794.84 347.63,792.95 349.30,790.40 C350.87,788.00 351.90,785.47 353.20,783.00" stroke="#00ffff" stroke-width="2.8" fill="none" stroke-linejoin="round" stroke-linecap="round" clip-path="url(#c5)"/>
<path d="M65.90,721.80 C67.53,719.63 68.99,717.90 70.80,715.30 C73.35,711.63 76.53,706.08 79.50,701.70 C82.37,697.46 85.38,693.49 88.30,689.40 C91.21,685.33 94.35,680.94 97.00,677.20 C99.25,674.03 100.88,670.89 103.20,668.40 C105.32,666.12 107.82,663.93 110.20,662.70 C112.20,661.67 114.29,661.13 116.30,661.00 C118.22,660.87 119.94,661.31 122.00,661.80 C124.58,662.41 127.57,663.31 130.50,664.70 C134.02,666.36 138.61,668.76 141.50,671.50 C144.09,673.95 145.50,676.53 147.40,680.00 C149.99,684.72 152.51,692.00 154.80,697.70 C156.92,702.97 158.81,707.61 160.70,713.00 C162.76,718.89 164.98,726.54 166.60,731.70 C167.74,735.33 168.43,737.46 169.50,741.00 C170.92,745.69 172.64,751.88 174.30,757.40 C176.00,763.05 178.03,769.98 179.60,774.50 C180.65,777.53 181.43,779.22 182.50,782.00 C183.84,785.47 185.52,789.93 187.00,793.70 C188.39,797.25 189.81,800.69 191.10,804.00 C192.30,807.07 193.38,809.87 194.50,812.90 C195.65,816.03 196.78,819.18 197.90,822.50 C199.09,826.03 200.34,829.95 201.40,833.50 C202.39,836.80 203.26,840.01 204.10,843.10 C204.88,845.96 205.34,848.44 206.30,851.40 C207.44,854.93 209.16,859.29 210.70,862.80 C212.07,865.93 213.52,868.69 215.00,871.50 C216.43,874.21 217.86,876.98 219.40,879.40 C220.81,881.61 222.15,883.72 223.80,885.50 C225.37,887.20 227.08,888.80 229.00,889.90 C230.89,890.98 233.24,891.66 235.20,892.10 C236.88,892.48 238.00,892.46 240.00,892.60 C243.31,892.83 249.27,893.49 253.20,893.10 C256.45,892.78 259.41,892.04 262.00,891.00 C264.27,890.09 265.91,888.65 268.00,887.50 C270.23,886.28 272.82,885.62 275.00,883.90 C277.55,881.88 279.79,878.77 282.00,875.70 C284.48,872.26 286.83,868.02 289.00,864.10 C291.13,860.25 292.95,856.30 294.90,852.40 C296.85,848.50 298.62,844.18 300.70,840.70 C302.52,837.65 304.50,835.09 306.50,832.50 C308.41,830.03 310.77,827.87 312.40,825.50 C313.87,823.36 314.62,821.51 316.00,819.00 C317.89,815.55 320.69,811.17 322.70,806.70 C324.94,801.73 326.88,795.99 328.60,790.40 C330.36,784.66 331.73,778.61 333.10,772.70 C334.46,766.81 335.51,760.62 336.80,755.00 C337.99,749.83 339.11,744.98 340.50,740.20 C341.83,735.62 343.39,731.19 344.90,726.90 C346.33,722.84 347.90,718.98 349.30,715.10 C350.66,711.35 351.90,707.70 353.20,704.00" stroke="#ff00ff" stroke-width="2.8" fill="none" stroke-linejoin="round" stroke-linecap="round" clip-path="url(#c5)"/>
<path d="M392.50,853.80 C395.50,852.23 398.55,851.02 401.50,849.10 C404.73,846.99 407.87,844.16 411.00,841.50 C414.21,838.77 417.21,835.34 420.50,832.90 C423.56,830.63 426.74,828.63 430.00,827.20 C433.08,825.85 436.48,824.92 439.50,824.40 C442.15,823.95 444.44,823.75 447.10,824.00 C450.11,824.28 453.38,825.01 456.60,826.30 C460.33,827.80 464.31,831.11 468.00,832.90 C471.25,834.48 474.45,835.83 477.50,836.70 C480.19,837.47 483.00,837.42 485.30,838.10 C487.24,838.68 488.82,839.33 490.50,840.30 C492.33,841.35 494.12,842.72 495.80,844.30 C497.64,846.04 499.32,848.18 501.00,850.40 C502.83,852.82 504.63,855.73 506.30,858.30 C507.85,860.69 509.25,862.96 510.70,865.30 C512.15,867.63 513.55,869.97 515.00,872.30 C516.45,874.64 517.90,877.07 519.40,879.30 C520.83,881.43 522.19,883.49 523.80,885.40 C525.40,887.29 527.17,889.20 529.00,890.70 C530.69,892.09 532.44,893.31 534.30,894.20 C536.11,895.06 538.00,895.58 540.00,896.00 C542.12,896.44 543.51,896.53 546.70,896.70 C554.55,897.11 579.25,897.86 587.60,896.70 C591.39,896.17 593.18,895.57 595.70,894.40 C598.22,893.23 600.50,891.31 602.70,889.70 C604.78,888.17 606.62,886.60 608.60,885.00 C610.62,883.37 612.75,881.42 614.70,880.00 C616.36,878.79 617.74,877.10 619.50,876.90 C621.41,876.69 623.77,879.49 625.80,879.20 C628.01,878.88 630.08,876.08 632.20,874.50 C634.32,872.92 636.97,871.47 638.50,869.70 C639.76,868.25 640.13,866.94 641.10,865.00 C642.59,862.00 644.55,857.19 646.30,853.30 C648.05,849.42 649.80,845.45 651.60,841.70 C653.33,838.10 655.17,834.80 656.90,831.20 C658.70,827.45 660.42,823.37 662.20,819.60 C663.92,815.97 665.52,812.15 667.40,809.00 C669.05,806.24 670.75,804.28 672.70,801.60 C675.04,798.38 677.90,794.53 680.50,791.00" stroke="#0000ff" stroke-width="2.8" fill="none" stroke-linejoin="round" stroke-linecap="round" clip-path="url(#c6)"/>
<path d="M393.30,776.90 C393.30,787.97 390.19,808.61 393.30,810.10 C395.05,810.94 398.80,806.16 401.50,803.50 C404.71,800.34 407.91,796.11 411.00,792.10 C414.25,787.89 417.30,783.13 420.50,778.80 C423.63,774.57 426.81,769.95 430.00,766.40 C432.72,763.38 435.22,760.47 438.20,758.60 C440.90,756.90 444.47,755.42 446.90,755.30 C448.60,755.22 449.68,755.89 451.30,756.50 C453.48,757.32 456.27,758.73 458.70,760.10 C461.21,761.52 463.61,763.39 466.10,764.90 C468.54,766.38 471.24,767.38 473.50,769.10 C475.81,770.86 477.88,773.13 479.80,775.40 C481.75,777.69 483.46,780.41 485.10,782.80 C486.61,784.99 487.79,786.92 489.30,789.20 C491.05,791.84 493.24,794.69 495.00,797.70 C496.85,800.87 498.44,804.34 500.10,807.80 C501.81,811.37 503.44,815.06 505.10,818.80 C506.81,822.66 508.53,826.61 510.20,830.60 C511.90,834.67 513.71,838.63 515.20,843.00 C516.81,847.72 517.84,853.45 519.40,858.00 C520.75,861.94 522.27,865.41 523.80,868.80 C525.21,871.91 526.62,874.99 528.20,877.60 C529.58,879.88 530.99,881.81 532.60,883.70 C534.19,885.57 536.16,887.24 537.80,888.90 C539.28,890.40 540.28,892.04 542.00,893.20 C543.93,894.51 545.96,895.45 549.00,896.10 C554.05,897.18 564.02,896.92 570.00,896.70 C574.47,896.54 578.25,896.59 581.70,895.50 C584.79,894.52 587.35,892.66 589.90,890.90 C592.41,889.16 594.61,887.10 596.90,885.00 C599.28,882.81 601.61,880.00 603.90,878.00 C605.86,876.29 607.72,875.16 609.70,873.60 C611.84,871.91 614.16,870.13 616.30,868.20 C618.50,866.21 620.93,864.42 622.70,861.80 C624.74,858.78 625.93,854.85 627.40,850.80 C629.13,846.03 630.39,838.91 632.20,834.90 C633.41,832.22 634.74,830.52 636.10,828.60 C637.35,826.85 638.66,825.67 640.00,823.80 C641.70,821.43 643.93,818.54 645.30,815.40 C646.81,811.95 647.41,807.91 648.40,803.80 C649.52,799.18 650.49,793.74 651.60,789.00 C652.63,784.60 653.77,780.46 654.80,776.30 C655.80,772.30 656.50,768.79 657.70,764.50 C659.18,759.24 661.44,752.76 663.20,747.10 C664.87,741.71 666.48,736.28 668.00,731.30 C669.36,726.83 670.62,722.96 671.90,718.60 C673.25,714.01 674.52,709.30 675.90,704.40 C677.38,699.13 678.97,693.47 680.50,688.00" stroke="#00ffff" stroke-width="2.8" fill="none" stroke-linejoin="round" stroke-linecap="round" clip-path="url(#c6)"/>
<path d="M392.60,757.30 C394.67,755.40 396.83,753.75 398.80,751.60 C400.95,749.26 402.90,746.43 404.90,743.70 C406.97,740.87 408.95,737.82 411.00,734.90 C413.05,731.99 415.15,729.11 417.20,726.20 C419.25,723.28 421.27,720.33 423.30,717.40 C425.33,714.47 427.29,711.31 429.40,708.60 C431.37,706.07 433.25,703.59 435.50,701.60 C437.66,699.69 440.10,697.87 442.60,696.80 C444.95,695.80 447.44,695.16 450.00,695.20 C452.79,695.25 455.97,696.39 458.70,697.40 C461.32,698.37 463.83,699.54 466.10,701.10 C468.41,702.69 470.52,704.65 472.40,706.90 C474.42,709.33 476.13,712.35 477.70,715.30 C479.31,718.31 480.56,721.45 481.90,724.80 C483.37,728.45 484.71,732.44 486.10,736.40 C487.55,740.53 488.98,744.87 490.40,749.10 C491.81,753.31 493.17,757.60 494.60,761.70 C495.98,765.66 497.48,769.91 498.80,773.30 C499.85,776.00 500.71,777.70 501.80,780.50 C503.30,784.34 505.13,789.65 506.80,794.30 C508.50,799.05 510.19,803.98 511.90,808.70 C513.56,813.28 515.20,817.75 516.90,822.20 C518.57,826.58 520.38,830.98 522.00,835.20 C523.54,839.20 524.90,843.12 526.40,846.90 C527.83,850.51 529.27,853.95 530.80,857.40 C532.31,860.81 533.82,864.23 535.50,867.50 C537.16,870.72 538.89,873.94 540.80,876.90 C542.64,879.76 544.65,882.58 546.70,885.00 C548.56,887.20 550.42,889.40 552.50,890.90 C554.35,892.24 556.15,893.12 558.40,893.80 C561.09,894.61 564.71,895.13 567.70,895.00 C570.53,894.88 573.28,894.36 575.90,893.20 C578.77,891.93 581.60,889.68 584.10,887.40 C586.69,885.04 588.77,881.93 591.10,879.20 C593.43,876.47 595.71,873.58 598.10,871.00 C600.39,868.53 602.87,865.75 605.10,864.00 C606.80,862.66 608.37,862.37 610.00,861.00 C612.10,859.24 614.55,856.79 616.30,853.90 C618.39,850.45 619.78,845.55 621.10,841.30 C622.40,837.12 623.20,833.07 624.20,828.60 C625.31,823.63 626.33,818.07 627.40,812.80 C628.47,807.53 629.45,801.96 630.60,797.00 C631.63,792.52 632.67,788.23 633.90,784.30 C635.00,780.79 636.27,777.78 637.50,774.50 C638.74,771.18 640.05,768.17 641.30,764.50 C642.79,760.14 644.33,755.06 645.70,750.00 C647.18,744.53 648.49,738.68 649.80,732.80 C651.17,726.66 652.36,720.06 653.70,713.90 C654.99,707.97 656.38,702.31 657.70,696.50 C659.02,690.68 660.28,684.82 661.60,679.00 C662.92,673.19 664.35,667.11 665.60,661.60 C666.73,656.63 667.76,651.84 668.80,647.40 C669.72,643.47 670.90,639.33 671.50,636.30 C671.91,634.22 672.03,632.77 672.30,631.00" stroke="#ff00ff" stroke-width="2.8" fill="none" stroke-linejoin="round" stroke-linecap="round" clip-path="url(#c6)"/>
<line x1="202.75" y1="2.40" x2="202.75" y2="253.40" stroke="#000" stroke-width="3" stroke-dasharray="13.60 13.05" stroke-dashoffset="5.70"/>
<line x1="532.70" y1="2.40" x2="532.70" y2="253.20" stroke="#000" stroke-width="3" stroke-dasharray="13.40 13.20" stroke-dashoffset="5.10"/>
<line x1="212.20" y1="331.90" x2="212.20" y2="573.20" stroke="#000" stroke-width="3" stroke-dasharray="13.00 13.44" stroke-dashoffset="10.10"/>
<line x1="533.90" y1="318.70" x2="533.90" y2="573.20" stroke="#000" stroke-width="3" stroke-dasharray="13.20 13.30" stroke-dashoffset="-2.10"/>
<line x1="209.40" y1="634.00" x2="209.40" y2="894.80" stroke="#000" stroke-width="3" stroke-dasharray="14.00 13.71" stroke-dashoffset="6.40"/>
<line x1="535.90" y1="636.60" x2="535.90" y2="897.40" stroke="#000" stroke-width="3" stroke-dasharray="13.80 13.95" stroke-dashoffset="6.55"/>
<line x1="86.4" y1="27.9" x2="114.0" y2="27.9" stroke="#0000ff" stroke-width="2.7" stroke-linecap="round"/>
<text x="116.8" y="31.9" font-size="11.9">300K</text>
<line x1="86.4" y1="43.1" x2="114.0" y2="43.1" stroke="#00ffff" stroke-width="2.7" stroke-linecap="round"/>
<text x="116.8" y="47.1" font-size="11.9">600K</text>
<line x1="86.4" y1="58.4" x2="114.0" y2="58.4" stroke="#ff00ff" stroke-width="2.7" stroke-linecap="round"/>
<text x="116.8" y="62.4" font-size="11.9">900K</text>
<line x1="416.4" y1="27.9" x2="443.8" y2="27.9" stroke="#0000ff" stroke-width="2.7" stroke-linecap="round"/>
<text x="447.0" y="31.9" font-size="11.9">300K</text>
<line x1="416.4" y1="43.1" x2="443.8" y2="43.1" stroke="#00ffff" stroke-width="2.7" stroke-linecap="round"/>
<text x="447.0" y="47.1" font-size="11.9">600K</text>
<line x1="416.4" y1="58.4" x2="443.8" y2="58.4" stroke="#ff00ff" stroke-width="2.7" stroke-linecap="round"/>
<text x="447.0" y="62.4" font-size="11.9">900K</text>
<line x1="81.2" y1="518.4" x2="109.3" y2="518.4" stroke="#0000ff" stroke-width="2.7" stroke-linecap="round"/>
<text x="113.0" y="522.3" font-size="12.6">300K</text>
<line x1="81.2" y1="532.7" x2="109.3" y2="532.7" stroke="#00ffff" stroke-width="2.7" stroke-linecap="round"/>
<text x="113.0" y="536.6" font-size="12.6">600K</text>
<line x1="81.2" y1="548.4" x2="109.3" y2="548.4" stroke="#ff00ff" stroke-width="2.7" stroke-linecap="round"/>
<text x="113.0" y="552.3" font-size="12.6">900K</text>
<line x1="409.6" y1="518.0" x2="435.6" y2="518.0" stroke="#0000ff" stroke-width="2.7" stroke-linecap="round"/>
<text x="439.6" y="521.8" font-size="11.9">300K</text>
<line x1="409.6" y1="532.7" x2="435.6" y2="532.7" stroke="#00ffff" stroke-width="2.7" stroke-linecap="round"/>
<text x="439.6" y="536.5" font-size="11.9">600K</text>
<line x1="409.6" y1="548.4" x2="435.6" y2="548.4" stroke="#ff00ff" stroke-width="2.7" stroke-linecap="round"/>
<text x="439.6" y="552.2" font-size="11.9">900K</text>
<line x1="272.2" y1="657.8" x2="299.6" y2="657.8" stroke="#0000ff" stroke-width="2.7" stroke-linecap="round"/>
<text x="303.0" y="661.8" font-size="12.7">300K</text>
<line x1="272.2" y1="673.9" x2="299.6" y2="673.9" stroke="#00ffff" stroke-width="2.7" stroke-linecap="round"/>
<text x="303.0" y="677.9" font-size="12.7">600K</text>
<line x1="272.2" y1="689.6" x2="299.6" y2="689.6" stroke="#ff00ff" stroke-width="2.7" stroke-linecap="round"/>
<text x="303.0" y="693.6" font-size="12.7">900K</text>
<line x1="569.3" y1="665.2" x2="596.7" y2="665.2" stroke="#0000ff" stroke-width="2.7" stroke-linecap="round"/>
<text x="599.6" y="669.5" font-size="13.0">300K</text>
<line x1="569.3" y1="681.4" x2="596.7" y2="681.4" stroke="#00ffff" stroke-width="2.7" stroke-linecap="round"/>
<text x="599.6" y="685.7" font-size="13.0">600K</text>
<line x1="569.3" y1="697.2" x2="596.7" y2="697.2" stroke="#ff00ff" stroke-width="2.7" stroke-linecap="round"/>
<text x="599.6" y="701.5" font-size="13.0">900K</text>
<text x="279.6" y="32.0" font-size="16.6">PtTiGe</text>
<text x="605.6" y="35.5" font-size="16.6">PtTiPb</text>
<text x="242.6" y="357.1" font-size="20.9">PtTiGe</text>
<text x="563.0" y="356.0" font-size="19.7">PtTiPb</text>
<text x="149.7" y="661.6" font-size="17.6">PtTiGe</text>
<text x="453.9" y="667.6" font-size="17.6">PtTiPb</text>
<text x="0.4" y="17.4" font-size="22.3">(c)</text>
<text x="23.7" y="342.2" font-size="16.0">(d)</text>
<text x="2.4" y="646.0" font-size="22.5">(e)</text>
<text transform="translate(158.3,294.4) scale(1.15,1)" font-size="20" font-weight="normal">μ</text>
<text x="171.4" y="294.4" font-size="20" font-weight="normal">–</text>
<text x="182.1" y="294.4" font-size="20">E</text>
<text x="195.2" y="297.3" font-size="20">F</text>
<text x="207.6" y="294.4" font-size="20">(eV)</text>
<text transform="translate(488.3,294.4) scale(1.15,1)" font-size="20" font-weight="normal">μ</text>
<text x="501.4" y="294.4" font-size="20" font-weight="normal">–</text>
<text x="512.1" y="294.4" font-size="20">E</text>
<text x="525.2" y="297.3" font-size="20">F</text>
<text x="537.6" y="294.4" font-size="20">(eV)</text>
<text transform="translate(176.3,612.3) scale(1.15,1)" font-size="20" font-weight="normal">μ</text>
<text x="189.4" y="612.3" font-size="20" font-weight="normal">–</text>
<text x="200.4" y="612.3" font-size="20">E</text>
<text x="213.5" y="617.6" font-size="14.5">F</text>
<text x="223.2" y="612.3" font-size="20">(eV)</text>
<text transform="translate(500.0,612.6) scale(1.15,1)" font-size="20" font-weight="normal">μ</text>
<text x="513.1" y="612.6" font-size="20" font-weight="normal">–</text>
<text x="524.1" y="612.6" font-size="20">E</text>
<text x="537.2" y="617.9" font-size="14.5">F</text>
<text x="546.9" y="612.6" font-size="20">(eV)</text>
<text transform="translate(169.9,938.7) scale(1.15,1)" font-size="20" font-weight="normal">μ</text>
<text x="183.0" y="938.7" font-size="20" font-weight="normal">–</text>
<text x="194.0" y="938.7" font-size="20" font-weight="normal">E</text>
<text x="206.0" y="944.0" font-size="14.5">F</text>
<text x="215.7" y="938.7" font-size="20">(eV)</text>
<text transform="translate(496.4,941.6) scale(1.15,1)" font-size="20" font-weight="normal">μ</text>
<text x="509.5" y="941.6" font-size="20" font-weight="normal">–</text>
<text x="520.5" y="941.6" font-size="20" font-weight="normal">E</text>
<text x="532.5" y="946.9" font-size="14.5">F</text>
<text x="542.2" y="941.6" font-size="20">(eV)</text>
<text transform="translate(19.3,134.0) rotate(-90)" font-size="20">ZT<tspan dy="5.3" font-size="13">e</tspan></text>
<text transform="translate(33.2,518.4) rotate(-90)" font-size="20"><tspan x="0" font-weight="normal">σ</tspan><tspan x="10.7" font-weight="normal">/</tspan><tspan x="17.5" font-weight="normal">τ</tspan><tspan x="26.9" font-weight="normal">(</tspan><tspan x="33.0">10</tspan><tspan x="53.0" y="-13.9">20</tspan><tspan x="72.0" y="0" font-weight="normal" font-size="21.5">Ω</tspan><tspan x="87.0" y="-8.4" font-size="14" font-weight="normal">-1</tspan><tspan x="98.9" y="0">m</tspan><tspan x="115.0" y="-8.4" font-size="20.5">-1</tspan><tspan x="131.7" y="0">s</tspan><tspan x="138.7" y="-8.4" font-size="20.5">-1</tspan><tspan x="155.3" y="0" font-weight="normal">)</tspan></text>
<text transform="translate(28,850.1) rotate(-90)" font-size="20"><tspan x="0" font-weight="normal">κ</tspan><tspan x="10.1" y="7.3" font-size="21.5">e</tspan><tspan x="19.9" y="0" font-weight="normal">/</tspan><tspan x="25.8" font-weight="normal">τ</tspan><tspan x="35.1">(10</tspan><tspan x="61.4" y="-5">15</tspan><tspan x="83.0" y="0">W/mKs)</tspan></text>
</svg>
</body></html>
